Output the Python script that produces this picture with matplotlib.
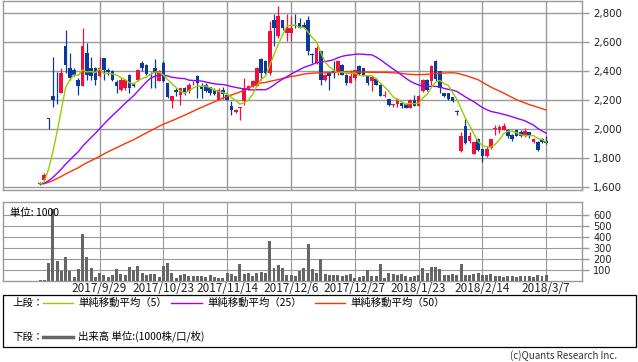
import numpy as np
import pandas as pd
import matplotlib.pyplot as plt
from matplotlib.patches import Rectangle
from matplotlib.lines import Line2D

# 日足データ (始値, 高値, 安値, 終値), 出来高(千株)
opens = [1625, 1650, 2076, 2225, 2320, 2248, 2575, 2420, 2410, 2340,
         2299, 2524, 2420, 2420, 2365, 2490, 2410, 2398, 2322, 2271,
         2282, 2375, 2310, 2340, 2455, 2444, 2380, 2420, 2330, 2455,
         2317, 2191, 2271, 2237, 2283, 2260, 2315, 2363, 2299, 2306,
         2290, 2271, 2202, 2271, 2237, 2161, 2115, 2145, 2191, 2276,
         2299, 2299, 2482, 2471, 2386, 2749, 2639, 2754, 2662, 2665,
         2720, 2730, 2720, 2755, 2520, 2455, 2536, 2340, 2386, 2398,
         2386, 2444, 2375, 2317, 2352, 2437, 2420, 2370, 2329, 2345,
         2306, 2226, 2207, 2165, 2175, 2179, 2175, 2145, 2202, 2161,
         2260, 2340, 2329, 2467, 2398, 2248, 2248, 2218, 2124, 1846,
         2023, 1920, 1830, 1930, 1861, 1815, 1866, 2000, 1995, 1995,
         1995, 1960, 1991, 1976, 1949, 1976, 1910, 1910, 1930, 1915]
highs = [1632, 1695, 2078, 2500, 2390, 2420, 2680, 2525, 2420, 2352,
         2700, 2593, 2500, 2425, 2497, 2492, 2420, 2409, 2340, 2352,
         2340, 2378, 2318, 2414, 2467, 2448, 2390, 2480, 2409, 2470,
         2320, 2228, 2283, 2285, 2290, 2317, 2329, 2375, 2317, 2317,
         2292, 2283, 2283, 2290, 2248, 2191, 2135, 2153, 2352, 2301,
         2335, 2425, 2490, 2475, 2743, 2790, 2850, 2755, 2790, 2782,
         2790, 2765, 2740, 2777, 2525, 2570, 2540, 2378, 2390, 2467,
         2478, 2446, 2378, 2409, 2410, 2440, 2422, 2372, 2362, 2350,
         2312, 2260, 2208, 2175, 2214, 2185, 2180, 2205, 2237, 2237,
         2345, 2345, 2444, 2478, 2400, 2250, 2250, 2220, 2133, 1976,
         2070, 1976, 1910, 1935, 1865, 1885, 1933, 2030, 2025, 2040,
         2000, 1965, 1995, 1995, 2005, 1978, 1937, 1915, 1940, 1955]
lows = [1615, 1645, 2000, 2155, 2170, 2245, 2386, 2340, 2365, 2237,
        2294, 2340, 2340, 2300, 2358, 2340, 2375, 2330, 2248, 2260,
        2270, 2248, 2290, 2330, 2400, 2375, 2282, 2283, 2330, 2325,
        2215, 2145, 2225, 2168, 2237, 2250, 2300, 2214, 2214, 2258,
        2237, 2237, 2200, 2205, 2200, 2099, 2113, 2064, 2168, 2271,
        2290, 2294, 2340, 2380, 2375, 2570, 2630, 2680, 2605, 2605,
        2697, 2695, 2700, 2513, 2455, 2450, 2306, 2333, 2271, 2352,
        2375, 2370, 2306, 2315, 2340, 2375, 2363, 2306, 2260, 2300,
        2228, 2222, 2160, 2150, 2150, 2145, 2143, 2143, 2156, 2156,
        2253, 2260, 2306, 2333, 2250, 2220, 2200, 2188, 2099, 1840,
        1895, 1903, 1828, 1850, 1770, 1810, 1860, 1960, 1970, 1990,
        1940, 1915, 1950, 1945, 1945, 1940, 1905, 1850, 1903, 1898]
closes = [1622, 1680, 2072, 2200, 2314, 2386, 2444, 2352, 2375, 2295,
          2570, 2375, 2365, 2340, 2420, 2410, 2390, 2340, 2299, 2340,
          2335, 2282, 2296, 2409, 2420, 2382, 2370, 2386, 2398, 2330,
          2218, 2225, 2253, 2283, 2253, 2306, 2320, 2317, 2276, 2260,
          2248, 2240, 2271, 2240, 2202, 2133, 2133, 2152, 2283, 2299,
          2329, 2420, 2386, 2386, 2674, 2697, 2782, 2697, 2697, 2700,
          2710, 2700, 2700, 2536, 2508, 2559, 2340, 2375, 2363, 2390,
          2467, 2375, 2317, 2363, 2409, 2382, 2370, 2317, 2360, 2306,
          2230, 2236, 2168, 2170, 2207, 2156, 2145, 2202, 2161, 2225,
          2340, 2271, 2437, 2345, 2283, 2225, 2207, 2191, 2120, 1949,
          1903, 1949, 1907, 1857, 1815, 1861, 1930, 2010, 2014, 2023,
          1949, 1930, 1953, 1953, 1983, 1953, 1930, 1857, 1907, 1900]
volume = [5, 5, 157, 650, 178, 86, 218, 86, 34, 102,
          425, 218, 111, 34, 74, 55, 34, 55, 102, 65,
          55, 120, 95, 138, 74, 49, 65, 65, 34, 138,
          157, 74, 25, 49, 62, 40, 46, 46, 46, 34,
          52, 34, 25, 28, 74, 65, 43, 148, 65, 74,
          40, 74, 80, 74, 363, 111, 142, 111, 55, 55,
          43, 86, 111, 332, 102, 74, 194, 62, 55, 55,
          55, 40, 55, 62, 25, 31, 43, 95, 43, 43,
          148, 25, 74, 65, 55, 62, 43, 31, 43, 55,
          111, 74, 126, 120, 108, 52, 52, 65, 55, 148,
          55, 55, 65, 74, 55, 55, 62, 43, 40, 31,
          40, 43, 31, 43, 40, 43, 31, 55, 40, 55]

date_pos = [14, 29, 44, 59, 74, 89, 104, 119]
date_labels = ['2017/9/29', '2017/10/23', '2017/11/14', '2017/12/6',
               '2017/12/27', '2018/1/23', '2018/2/14', '2018/3/7']

jp = ['Noto Sans CJK JP', 'DejaVu Sans']
grid_c = '#999999'
up_c = '#f0103c'
down_c = '#0b3a9a'

x = np.arange(len(closes))
o = np.array(opens)
c = np.array(closes)
h = np.array(highs)
l = np.array(lows)


def sma(vals, n):
    # 上場前の日は初日の終値で埋めて平均する
    padded = pd.Series(np.r_[np.full(n - 1, vals[0]), vals])
    return padded.rolling(n).mean().to_numpy()[n - 1:]


ma5 = sma(c, 5)
ma25 = sma(c, 25)
ma50 = sma(c, 50)

fig = plt.figure(figsize=(6.38, 3.62), dpi=100)
ax = fig.add_axes([3/638, 1-190/362, 579/638, 189/362])
axv = fig.add_axes([3/638, 1-280.7/362, 579/638, 78.7/362])

# ローソク足
up = c > o
cols = np.where(up, up_c, down_c)
ax.vlines(x, l, h, colors=cols, lw=0.9, zorder=3)
body_lo = np.minimum(o, c)
body_h = np.maximum(np.abs(c - o), 4)
ax.bar(x, body_h, bottom=body_lo, width=0.85, color=cols, zorder=3)

ax.plot(x, ma50, color='#ff3300', lw=1, zorder=4)
ax.plot(x, ma25, color='#9900ff', lw=1, zorder=4)
ax.plot(x, ma5, color='#99cc00', lw=1, zorder=5)

xlim = (-8.7, 127.4)
ax.set_xlim(*xlim)
ax.set_ylim(1579, 2883)
ax.set_yticks([1600, 1800, 2000, 2200, 2400, 2600, 2800])
ax.set_yticklabels(['1,600', '1,800', '2,000', '2,200', '2,400', '2,600', '2,800'])
ax.set_xticks(date_pos)
ax.set_xticklabels([])

# 出来高
axv.bar(x, volume, width=0.7, color='#666666', zorder=3)
axv.set_xlim(*xlim)
axv.set_ylim(0, 715)
axv.set_yticks([100, 200, 300, 400, 500, 600])
axv.set_xticks(date_pos)
axv.set_xticklabels(date_labels, fontsize=8.5, family=jp, color='#222222')
axv.text(0.012, 0.93, '単位: 1000', transform=axv.transAxes, fontsize=7.5,
         family=jp, va='top', ha='left', zorder=6)

for a, fs in ((ax, 7.4), (axv, 7)):
    a.yaxis.tick_right()
    a.grid(True, color=grid_c, lw=1.0 if a is ax else 0.8)
    a.set_axisbelow(True)
    for sp in a.spines.values():
        sp.set_color(grid_c)
        sp.set_linewidth(1.0)
    a.tick_params(axis='y', length=5, color=grid_c, width=1, labelsize=fs,
                  pad=3, labelcolor='#222222')
    a.tick_params(axis='x', length=0, pad=1)

# 凡例
fig.add_artist(Rectangle((3/638, 1-347/362), 633/638, 52/362, transform=fig.transFigure,
                         fill=False, ec='black', lw=0.9))
y1 = 1 - 303/362
y2 = 1 - 336.5/362
fig.text(12/638, y1, '上段：', fontsize=7.5, family=jp, va='center')
fig.text(12/638, y2, '下段：', fontsize=7.5, family=jp, va='center')
legend_items = [(43, 73, '#99cc00', 78, '単純移動平均（5）'),
                (171, 202, '#9900ff', 207, '単純移動平均（25）'),
                (315, 345, '#ff3300', 350, '単純移動平均（50）')]
for x0, x1, col, tx, lab in legend_items:
    fig.add_artist(Line2D([x0/638, x1/638], [y1, y1], color=col, lw=1,
                          transform=fig.transFigure))
    fig.text(tx/638, y1, lab, fontsize=7.5, family=jp, va='center')
fig.add_artist(Line2D([43/638, 73/638], [y2, y2], color='#666666', lw=2.5,
                      transform=fig.transFigure))
fig.text(78/638, y2, '出来高 単位:(1000株/口/枚)', fontsize=7.5, family=jp, va='center')

fig.text(617/638, 1-356/362, '(c)Quants Research Inc.', fontsize=7, family=jp,
         ha='right', va='center', color='#333333')

plt.savefig('out.png', dpi=100)
